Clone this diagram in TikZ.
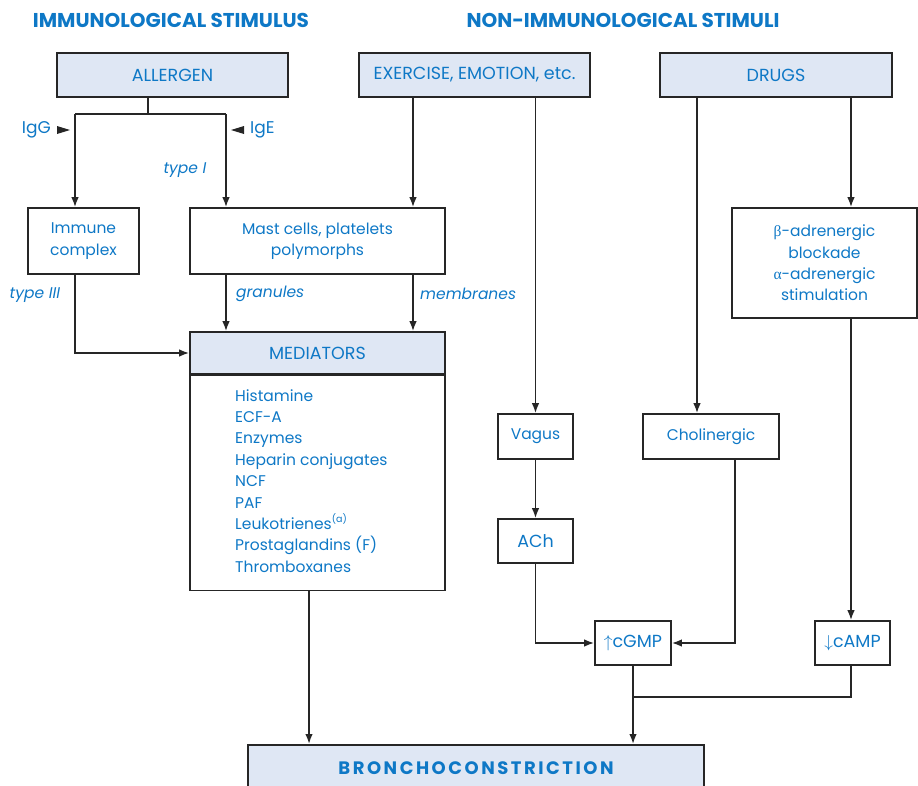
\documentclass[tikz,border=0pt]{standalone}
\usepackage{fontspec}
\setmainfont{Poppins}
\newfontfamily\grk{Liberation Serif}
\usetikzlibrary{arrows.meta}

\definecolor{txtblue}{RGB}{14,120,198}
\definecolor{boxfill}{RGB}{223,231,244}
\definecolor{linegray}{RGB}{38,38,38}

\newcommand{\supnote}[1]{\raisebox{6.5pt}{\fontsize{9.5}{10}\selectfont(#1)}}

\tikzset{
	box/.style={draw=linegray, line width=1.6pt, text=txtblue, inner sep=0pt, align=center,
		font=\fontsize{15.5}{21.4}\selectfont},
	capbox/.style={box, font=\fontsize{17.5}{21.4}\selectfont},
	headbox/.style={capbox, fill=boxfill},
	line/.style={draw=linegray, line width=1.6pt},
	link/.style={line, -{Latex[length=10pt,width=7.5pt]}},
	lbl/.style={text=txtblue, inner sep=0pt, font=\fontsize{15.5}{21.4}\selectfont},
	slbl/.style={lbl, font=\fontsize{15.5}{18}\selectfont\itshape},
	title/.style={text=txtblue, inner sep=0pt, font=\fontsize{20}{22}\selectfont\bfseries},
}

\begin{document}
\begin{tikzpicture}[x=1pt, y=-1pt]
		%%%%% START %%%%%
		\useasboundingbox (0,0) rectangle (918,785);
		
		\node[title] (immtitle) at (171,20) {IMMUNOLOGICAL STIMULUS};
		\node[title] (nonimmtitle) at (623,20) {NON-IMMUNOLOGICAL STIMULI};
		
		% stimuli
		\node[headbox, minimum width=231pt, minimum height=44pt] (allergen) at (172.5,75) {ALLERGEN};
		\node[headbox, minimum width=231pt, minimum height=44pt] (exercise) at (474.5,75) {EXERCISE, EMOTION, etc.};
		\node[headbox, minimum width=232pt, minimum height=44pt] (drugs) at (776,75) {DRUGS};
		
		\node[box, minimum width=111pt, minimum height=66pt] (immune) at (83.5,241) {Immune\\complex};
		\node[box, minimum width=255pt, minimum height=66pt] (mast) at (317.5,241) {Mast cells, platelets\\polymorphs};
		\node[box, minimum width=185pt, minimum height=110pt] (beta) at (824.5,263)
			{{\grk β}-adrenergic\\blockade\\{\grk α}-adrenergic\\stimulation};
		
		% mediators and their list
		\node[headbox, minimum width=255pt, minimum height=42pt] (mediators) at (317.5,353) {MEDIATORS};
		\node[box, minimum width=255pt, minimum height=215pt, anchor=north] (medbody) at (mediators.south) {};
		\foreach \med [count=\i] in {Histamine, ECF-A, Enzymes, Heparin conjugates, NCF, PAF,
				Leukotrienes\supnote{a}, Prostaglandins (F), Thromboxanes}
			\node[lbl, anchor=base west] (med\i) at (235, 379.6+21.4*\i) {\med};
		
		\node[box, minimum width=75pt, minimum height=45pt] (vagus) at (535.5,436.5) {Vagus};
		\node[capbox, minimum width=75pt, minimum height=44pt] (ach) at (535.5,541) {ACh};
		\node[box, minimum width=136pt, minimum height=45pt] (cholin) at (711,436.5) {Cholinergic};
		\node[capbox, minimum width=76pt, minimum height=44pt] (cgmp) at (633,643) {$\uparrow$cGMP};
		\node[capbox, minimum width=75pt, minimum height=44pt] (camp) at (852.5,643) {$\downarrow$cAMP};
		
		\node[headbox, minimum width=456pt, minimum height=46pt, anchor=north,
			font=\fontsize{18}{20}\selectfont\bfseries\addfontfeature{LetterSpace=14}] (broncho) at (476,744) {BRONCHOCONSTRICTION};
		
		% columns of the connectors
		\coordinate (fork) at (148,114);
		\coordinate (igg) at (75,114);
		\coordinate (ige) at (226,114);
		\coordinate (memb) at (413,0);
		\coordinate (cholin-in) at (697,0);
		\coordinate (cholin-out) at (735,0);
		\coordinate (betacol) at (851,0);
		\coordinate (medcol) at (309,0);
		
		% allergen branches
		\draw[line] (allergen.south -| fork) -- (fork) (igg) -- (ige);
		\draw[link] (igg) -- (immune.north -| igg);
		\draw[link] (ige) -- (mast.north -| ige);
		\node[lbl, anchor=east, font=\fontsize{17}{20}\selectfont] (igglbl) at (51,130) {IgG};
		\fill[linegray] (igglbl.east) ++(6,-4) -- ++(0,8) -- ++(13,-4) -- cycle;
		\node[lbl, anchor=west, font=\fontsize{17}{20}\selectfont] (igelbl) at (250,130) {IgE};
		\fill[linegray] (igelbl.west) ++(-6,-4) -- ++(0,8) -- ++(-13,-4) -- cycle;
		\node[slbl] (type1) at (185,170) {type I};
		
		\draw[link] (exercise.south -| memb) -- (mast.north -| memb);
		\draw[link] (exercise.south -| vagus) -- (vagus);
		\draw[link] (drugs.south -| cholin-in) -- (cholin.north -| cholin-in);
		\draw[link] (drugs.south -| betacol) -- (beta.north -| betacol);
		
		% into the mediators
		\draw[link] (immune.south -| igg) |- (mediators.west);
		\node[slbl] (type3) at (35,295) {type III};
		\draw[link] (mast.south -| ige) -- (mediators.north -| ige);
		\node[slbl, anchor=west] (granules) at (236,294) {granules};
		\draw[link] (mast.south -| memb) -- (mediators.north -| memb);
		\node[slbl, anchor=west] (membranes) at (420,294) {membranes};
		
		% cyclic nucleotides
		\draw[link] (vagus) -- (ach);
		\draw[link] (ach) |- (cgmp);
		\draw[link] (cholin.south -| cholin-out) |- (cgmp);
		\draw[link] (beta.south -| betacol) -- (camp.north -| betacol);
		
		% to bronchoconstriction
		\draw[link] (medbody.south -| medcol) -- (broncho.north -| medcol);
		\draw[link] (cgmp) -- (broncho.north -| cgmp);
		\draw[line] (camp.south -| betacol) -- ++(0,31) -| (cgmp.south);
		
		%%%%% END %%%%%
\end{tikzpicture}
\end{document}
